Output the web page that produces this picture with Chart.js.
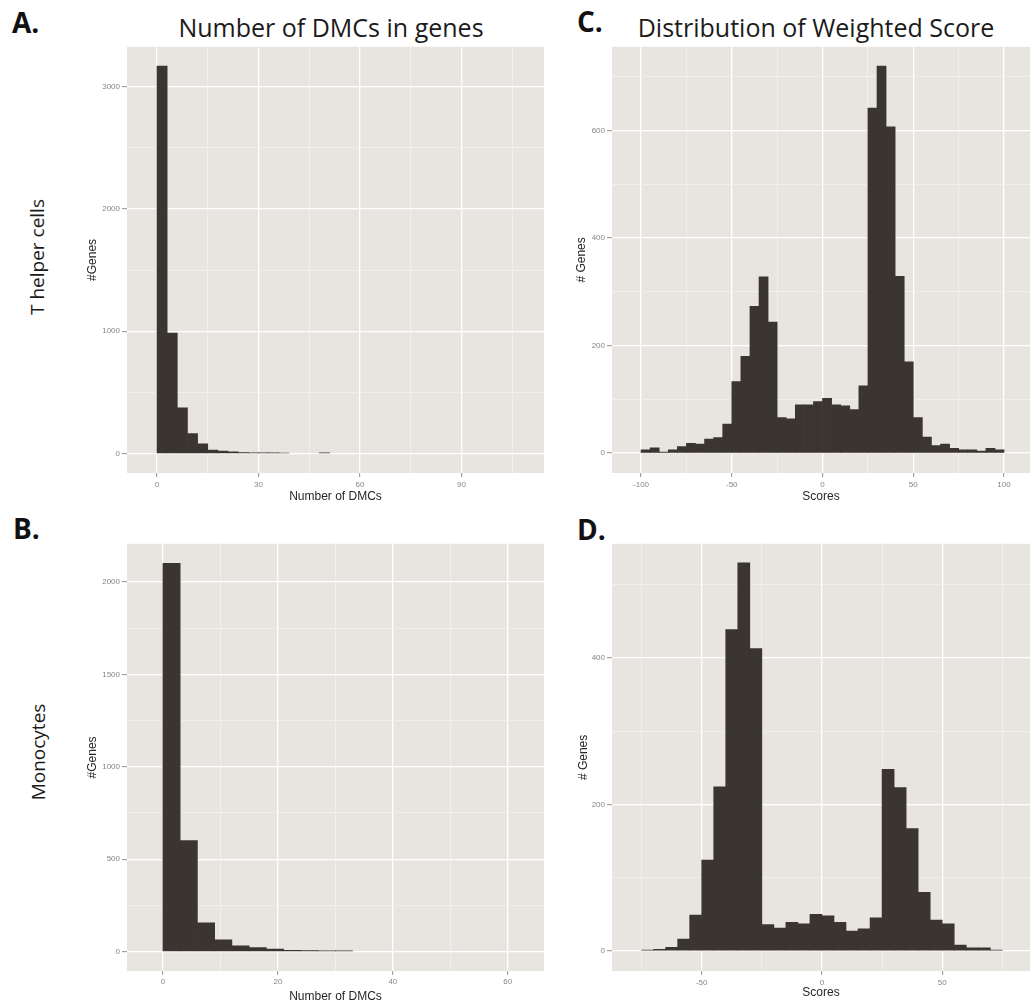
<!DOCTYPE html>
<html>
<head>
<meta charset="utf-8">
<script src="https://cdn.jsdelivr.net/npm/chart.js@4.4.1/dist/chart.umd.min.js"></script>
<style>
  html, body { margin:0; padding:0; background:#fff; width:1030px; height:1004px; overflow:hidden; }
  .box { position:absolute; }
  .txt { position:absolute; font-family:'Open Sans', sans-serif; color:#1b1b1b; white-space:nowrap; }
  .ttl { font-size:25px; line-height:25px; width:400px; text-align:center; }
  .tag { font-size:28px; line-height:28px; font-weight:700; color:#111; }
  .row { font-size:19px; line-height:19px; transform:translate(-50%,-50%) rotate(-90deg); }
</style>
</head>
<body>

<div class="txt tag" style="left:12px;top:8px">A.</div>
<div class="txt tag" style="left:13px;top:514px">B.</div>
<div class="txt tag" style="left:577px;top:7px">C.</div>
<div class="txt tag" style="left:577px;top:515px">D.</div>
<div class="txt ttl" style="left:131px;top:15px">Number of DMCs in genes</div>
<div class="txt ttl" style="left:616px;top:15px">Distribution of Weighted Score</div>
<div class="txt row" style="left:37px;top:257px">T helper cells</div>
<div class="txt row" style="left:38px;top:752px">Monocytes</div>

<div class="box" style="left:80px;top:40px;width:470px;height:470px"><canvas id="pA"></canvas></div>
<div class="box" style="left:80px;top:537px;width:470px;height:480px"><canvas id="pB"></canvas></div>
<div class="box" style="left:565px;top:40px;width:465px;height:470px"><canvas id="pC"></canvas></div>
<div class="box" style="left:565px;top:537px;width:465px;height:480px"><canvas id="pD"></canvas></div>

<script>
// ---- data ----

// A. T helper cells, number of DMCs per gene (bins of 3)
const helperDmcBins   = [1.5, 4.5, 7.5, 10.5, 13.5, 16.5, 19.5, 22.5, 25.5, 28.5, 31.5, 34.5, 37.5, 49.5];
const helperDmcCounts = [3165, 985, 375, 163, 80, 30, 21, 14, 8, 7, 6, 6, 5, 6];
const helperDmcXMajor = [0, 30, 60, 90];
const helperDmcXMinor = [15, 45, 75, 105];
const helperDmcYMajor = [0, 1000, 2000, 3000];
const helperDmcYMinor = [500, 1500, 2500];

// B. Monocytes, number of DMCs per gene (bins of 3)
const monoDmcBins   = [1.5, 4.5, 7.5, 10.5, 13.5, 16.5, 19.5, 22.5, 25.5, 28.5, 31.5];
const monoDmcCounts = [2100, 601, 156, 63, 31, 22, 13, 7, 5, 4, 4];
const monoDmcXMajor = [0, 20, 40, 60];
const monoDmcXMinor = [10, 30, 50];
const monoDmcYMajor = [0, 500, 1000, 1500, 2000];
const monoDmcYMinor = [250, 750, 1250, 1750];

// C. T helper cells, weighted score (bins of 5)
const helperScoreBins = [-97.5, -92.5, -87.5, -82.5, -77.5, -72.5, -67.5, -62.5, -57.5, -52.5,
                         -47.5, -42.5, -37.5, -32.5, -27.5, -22.5, -17.5, -12.5, -7.5, -2.5,
                         2.5, 7.5, 12.5, 17.5, 22.5, 27.5, 32.5, 37.5, 42.5, 47.5,
                         52.5, 57.5, 62.5, 67.5, 72.5, 77.5, 82.5, 87.5, 92.5, 97.5];
const helperScoreCounts = [6, 10, 2, 6, 12, 18, 17, 26, 29, 54,
                           133, 180, 273, 328, 244, 66, 64, 90, 90, 96,
                           102, 90, 88, 81, 125, 642, 720, 607, 329, 170,
                           66, 30, 14, 17, 9, 6, 6, 4, 9, 6];
const helperScoreXMajor = [-100, -50, 0, 50, 100];
const helperScoreXMinor = [-75, -25, 25, 75];
const helperScoreYMajor = [0, 200, 400, 600];
const helperScoreYMinor = [100, 300, 500, 700];

// D. Monocytes, weighted score (bins of 5)
const monoScoreBins = [-72.5, -67.5, -62.5, -57.5, -52.5, -47.5, -42.5, -37.5, -32.5, -27.5,
                       -22.5, -17.5, -12.5, -7.5, -2.5, 2.5, 7.5, 12.5, 17.5, 22.5,
                       27.5, 32.5, 37.5, 42.5, 47.5, 52.5, 57.5, 62.5, 67.5, 72.5];
const monoScoreCounts = [1, 2, 5, 16, 49, 124, 224, 439, 530, 413,
                         36, 31, 39, 37, 50, 48, 39, 27, 30, 45,
                         248, 223, 167, 80, 42, 37, 8, 4, 4, 1];
const monoScoreXMajor = [-50, 0, 50];
const monoScoreXMinor = [-75, -25, 25, 75];
const monoScoreYMajor = [0, 200, 400];
const monoScoreYMinor = [100, 300, 500];

// ---- ggplot-ish look ----
const PANEL_BG  = '#e8e5e1';
const BAR_FILL  = '#3b3531';
const GRID_MAJ  = '#ffffff';
const GRID_MIN  = '#f3f1ee';
const TICK_COL  = '#929292';
const LABEL_COL = '#868686';
const SANS = "'Liberation Sans', Arial, sans-serif";

Chart.defaults.font.family = SANS;

// grey panel behind the grid
const panelBg = {
  id: 'panelBg',
  beforeDraw(chart) {
    const a = chart.chartArea, c = chart.ctx;
    c.save();
    c.fillStyle = PANEL_BG;
    c.fillRect(a.left, a.top, a.right - a.left, a.bottom - a.top);
    c.restore();
  }
};

// one axis: major + minor gridlines, fixed box size so the panel lands where the figure has it
function axis(o) {
  const all = o.major.concat(o.minor).sort((a, b) => a - b);
  const isMaj = v => o.major.includes(v);
  return {
    type: 'linear',
    position: o.pos,
    min: o.min, max: o.max,
    offset: false,
    afterBuildTicks: s => { s.ticks = all.map(v => ({ value: v })); },
    afterFit: s => { if (o.pos === 'left') s.width = o.size; else s.height = o.size; },
    border: { display: false },
    grid: {
      offset: false,
      drawTicks: true,
      tickLength: o.tickLen,
      color: ctx => isMaj(ctx.tick.value) ? GRID_MAJ : GRID_MIN,
      lineWidth: ctx => isMaj(ctx.tick.value) ? 1.3 : 0.8,
      tickColor: ctx => isMaj(ctx.tick.value) ? TICK_COL : 'rgba(0,0,0,0)',
      tickWidth: 1
    },
    ticks: {
      autoSkip: false, maxRotation: 0, minRotation: 0,
      padding: o.labelPad,
      color: LABEL_COL,
      font: { size: 8 },
      callback: v => isMaj(v) ? String(v) : ''
    },
    title: {
      display: true, text: o.title, color: '#262626',
      font: { size: 12 },
      padding: o.pos === 'left' ? { top: o.titlePad, bottom: 0 } : { top: 0, bottom: o.titlePad }
    }
  };
}

function hist(id, bins, counts, x, y, pad) {
  new Chart(document.getElementById(id), {
    type: 'bar',
    data: {
      datasets: [{
        data: bins.map((b, i) => ({ x: b, y: counts[i] })),
        backgroundColor: BAR_FILL,
        borderWidth: 0,
        barPercentage: 1,
        categoryPercentage: 1
      }]
    },
    options: {
      responsive: true,
      maintainAspectRatio: false,
      animation: false,
      devicePixelRatio: 1,
      layout: { padding: pad },
      plugins: { legend: { display: false }, tooltip: { enabled: false } },
      scales: { x: axis(x), y: axis(y) }
    },
    plugins: [panelBg]
  });
}

// A
hist('pA', helperDmcBins, helperDmcCounts,
  { pos:'bottom', min:-8.87, max:114.4, major:helperDmcXMajor, minor:helperDmcXMinor,
    size:37, tickLen:4, labelPad:3.2, title:'Number of DMCs', titlePad:5.8 },
  { pos:'left', min:-158, max:3323, major:helperDmcYMajor, minor:helperDmcYMinor,
    size:47, tickLen:5, labelPad:2, title:'#Genes', titlePad:5.8 },
  { left:0, top:5, right:6, bottom:0 });

// B
hist('pB', monoDmcBins, monoDmcCounts,
  { pos:'bottom', min:-6.25, max:66.3, major:monoDmcXMajor, minor:monoDmcXMinor,
    size:46, tickLen:4, labelPad:2.2, title:'Number of DMCs', titlePad:12.8 },
  { pos:'left', min:-105, max:2206, major:monoDmcYMajor, minor:monoDmcYMinor,
    size:47, tickLen:5, labelPad:2, title:'#Genes', titlePad:5.8 },
  { left:0, top:5, right:6, bottom:0 });

// C
hist('pC', helperScoreBins, helperScoreCounts,
  { pos:'bottom', min:-116, max:114.3, major:helperScoreXMajor, minor:helperScoreXMinor,
    size:37, tickLen:4, labelPad:3.2, title:'Scores', titlePad:5.8 },
  { pos:'left', min:-37, max:756, major:helperScoreYMajor, minor:helperScoreYMinor,
    size:47, tickLen:5, labelPad:2, title:'# Genes', titlePad:9.3 },
  { left:0, top:5, right:0, bottom:0 });

// D
hist('pD', monoScoreBins, monoScoreCounts,
  { pos:'bottom', min:-87.3, max:86.5, major:monoScoreXMajor, minor:monoScoreXMinor,
    size:46, tickLen:4, labelPad:2.7, title:'Scores', titlePad:16.8 },
  { pos:'left', min:-27.5, max:556, major:monoScoreYMajor, minor:monoScoreYMinor,
    size:47, tickLen:5, labelPad:2, title:'# Genes', titlePad:11.8 },
  { left:0, top:5, right:0, bottom:0 });
</script>
</body>
</html>
